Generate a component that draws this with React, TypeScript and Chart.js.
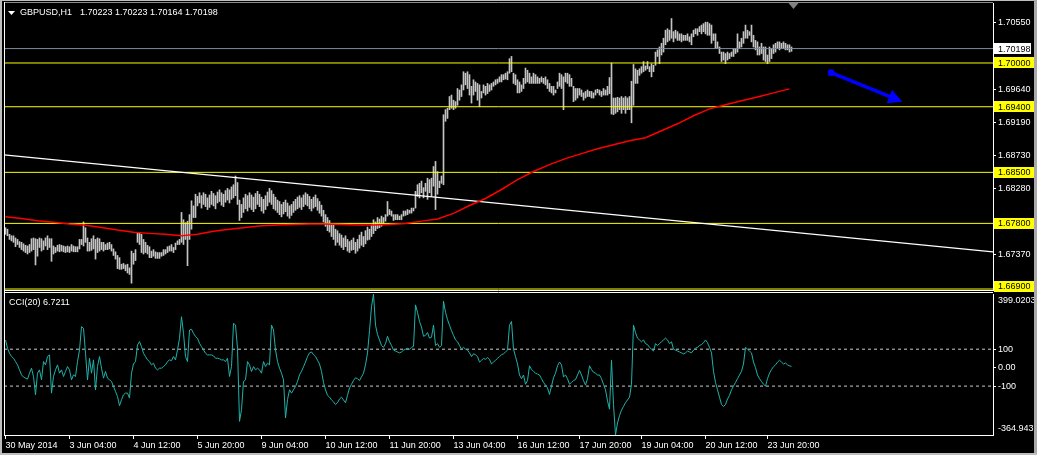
import React, { useEffect, useRef } from 'react';
import { Chart, registerables } from 'chart.js';

Chart.register(...registerables);

// ---------- DATA ----------
const symbolTitle = 'GBPUSD,H1';
const titleQuote = ['1.70223', '1.70223', '1.70164', '1.70198'];
const cciTitle = 'CCI(20) 6.7211';

// H1 bar highs (one per bar, oldest first)
const highs = [
  1.6774,1.6772,1.6765,1.6763,1.6763,1.6760,1.6758,1.6755,1.6754,1.6752,
  1.6750,1.6749,1.6751,1.6759,1.6760,1.6759,1.6758,1.6760,1.6759,1.6756,
  1.6760,1.6763,1.6759,1.6759,1.6749,1.6747,1.6750,1.6751,1.6750,1.6749,
  1.6748,1.6749,1.6748,1.6751,1.6749,1.6748,1.6748,1.6758,1.6758,1.6782,
  1.6774,1.6760,1.6754,1.6759,1.6763,1.6758,1.6760,1.6759,1.6754,1.6754,
  1.6751,1.6753,1.6754,1.6751,1.6745,1.6741,1.6736,1.6733,1.6724,1.6725,
  1.6723,1.6724,1.6719,1.6742,1.6739,1.6744,1.6767,1.6767,1.6765,1.6758,
  1.6754,1.6750,1.6748,1.6742,1.6744,1.6741,1.6740,1.6740,1.6740,1.6744,
  1.6744,1.6748,1.6749,1.6751,1.6747,1.6753,1.6756,1.6758,1.6795,1.6785,
  1.6781,1.6783,1.6792,1.6811,1.6804,1.6820,1.6817,1.6822,
  1.6818,1.6822,1.6820,1.6815,1.6819,1.6824,1.6821,1.6818,
  1.6823,1.6826,1.6822,1.6820,1.6825,1.6828,1.6826,1.6830,
  1.6833,1.6845,1.6836,1.6812,1.6806,
  1.6815,1.6820,1.6818,1.6822,1.6819,1.6816,1.6821,1.6824,1.6820,1.6816,1.6813,1.6818,
  1.6823,1.6828,1.6825,1.6820,1.6816,1.6812,
  1.6810,1.6806,1.6809,1.6812,1.6808,1.6804,1.6806,1.6810,1.6813,1.6816,
  1.6818,1.6815,1.6819,1.6822,1.6820,1.6817,1.6813,1.6816,1.6819,1.6814,1.6810,
  1.6805,1.6798,1.6792,1.6788,1.6784,1.6780,1.6778,1.6772,
  1.6770,1.6766,1.6764,1.6760,1.6763,1.6758,1.6755,1.6757,1.6760,1.6754,1.6758,
  1.6764,1.6768,1.6762,1.6770,1.6775,1.6772,1.6778,1.6785,1.6782,1.6788,1.6786,
  1.6790,1.6788,1.6792,1.6810,1.6799,1.6797,1.6792,1.6792,1.6792,1.6790,
  1.6792,1.6797,1.6797,1.6799,1.6798,1.6801,1.6801,1.6824,1.6833,1.6835,
  1.6838,1.6829,1.6835,1.6842,1.6840,1.6842,1.6858,1.6865,1.6851,1.6838,
  1.6845,1.6929,
  1.6936,1.6938,1.6954,1.6956,1.6949,1.6947,1.6965,1.6963,1.6970,1.6988,
  1.6986,1.6988,1.6984,1.6968,1.6977,1.6974,1.6972,1.6970,1.6961,1.6970,
  1.6968,1.6972,1.6970,1.6972,1.6974,1.6977,1.6978,1.6981,1.6984,1.6984,
  1.6986,1.6988,1.7006,1.7009,1.6986,1.6984,1.6977,1.6974,1.6970,1.6979,
  1.6993,1.6990,1.6986,1.6981,1.6986,1.6984,1.6981,1.6979,1.6981,1.6979,
  1.6981,1.6977,1.6972,1.6968,1.6968,1.6963,1.6974,1.6986,1.6984,1.6981,
  1.6986,1.6986,1.6984,1.6979,1.6968,1.6965,1.6965,1.6965,1.6963,1.6959,
  1.6961,1.6963,1.6961,1.6961,1.6959,1.6963,1.6964,1.6963,
  1.6961,1.6965,1.6963,1.6968,1.6980,1.7000,1.6952,1.6952,1.6953,1.6952,
  1.6954,1.6952,1.6954,1.6952,1.6954,1.6975,1.6998,1.6992,1.6990,1.6992,
  1.6995,1.7002,1.6996,1.7002,1.6995,1.6999,1.6997,1.7015,1.7018,1.7022,
  1.7027,1.7034,1.7045,1.7047,1.7045,1.7061,1.7043,1.7045,1.7043,1.7040,
  1.7040,1.7038,1.7038,1.7040,1.7036,1.7040,1.7045,1.7047,1.7047,1.7050,
  1.7052,1.7054,1.7056,1.7056,1.7054,1.7052,1.7040,1.7040,1.7029,1.7022,
  1.7015,1.7015,1.7013,1.7015,1.7013,1.7015,1.7020,1.7020,1.7040,1.7029,
  1.7034,1.7043,1.7052,1.7045,1.7043,1.7052,1.7038,1.7031,1.7029,1.7022,
  1.7027,1.7022,1.7022,1.7011,1.7022,1.7020,1.7025,1.7027,1.7029,1.7029,
  1.7027,1.7029,1.7027,1.7025,1.7025,1.7022,
];

// H1 bar lows
const lows = [
  1.6765,1.6763,1.6758,1.6756,1.6754,1.6748,1.6751,1.6747,1.6744,1.6742,
  1.6740,1.6738,1.6740,1.6742,1.6744,1.6723,1.6735,1.6747,1.6742,1.6744,
  1.6749,1.6744,1.6747,1.6728,1.6738,1.6740,1.6742,1.6741,1.6742,1.6741,
  1.6740,1.6741,1.6740,1.6742,1.6741,1.6741,1.6741,1.6745,1.6751,1.6749,
  1.6754,1.6742,1.6742,1.6743,1.6745,1.6731,1.6740,1.6742,1.6744,1.6742,
  1.6744,1.6744,1.6745,1.6742,1.6736,1.6731,1.6718,1.6717,1.6717,1.6718,
  1.6715,1.6712,1.6710,1.6698,1.6724,1.6729,1.6754,1.6751,1.6740,1.6738,
  1.6740,1.6738,1.6733,1.6733,1.6735,1.6732,1.6732,1.6732,1.6735,1.6736,
  1.6738,1.6740,1.6742,1.6742,1.6740,1.6744,1.6751,1.6751,1.6754,1.6751,
  1.6758,1.6722,1.6758,1.6772,1.6788,1.6788,1.6804,1.6808,
  1.6801,1.6806,1.6803,1.6799,1.6802,1.6806,1.6804,1.6800,
  1.6808,1.6810,1.6805,1.6803,1.6809,1.6812,1.6808,1.6813,
  1.6815,1.6818,1.6806,1.6784,1.6788,
  1.6795,1.6800,1.6797,1.6802,1.6799,1.6796,1.6800,1.6806,1.6803,1.6797,1.6794,1.6799,
  1.6804,1.6809,1.6806,1.6800,1.6798,1.6795,
  1.6792,1.6789,1.6793,1.6796,1.6790,1.6787,1.6791,1.6795,1.6798,1.6800,
  1.6802,1.6799,1.6803,1.6806,1.6804,1.6800,1.6797,1.6801,1.6803,1.6798,1.6794,
  1.6790,1.6782,1.6776,1.6770,1.6768,1.6762,1.6758,1.6750,
  1.6754,1.6750,1.6747,1.6744,1.6748,1.6742,1.6740,1.6743,1.6744,1.6739,1.6742,
  1.6746,1.6750,1.6748,1.6752,1.6757,1.6758,1.6762,1.6766,1.6770,1.6773,1.6774,
  1.6776,1.6778,1.6783,1.6790,1.6792,1.6790,1.6784,1.6785,1.6785,1.6785,
  1.6785,1.6790,1.6791,1.6792,1.6794,1.6794,1.6797,1.6801,1.6817,1.6815,
  1.6822,1.6815,1.6824,1.6813,1.6822,1.6817,1.6831,1.6799,1.6820,1.6829,
  1.6835,1.6833,
  1.6920,1.6924,1.6936,1.6938,1.6936,1.6938,1.6942,1.6949,1.6954,1.6963,
  1.6970,1.6965,1.6956,1.6945,1.6956,1.6961,1.6949,1.6940,1.6952,1.6959,
  1.6956,1.6958,1.6961,1.6963,1.6968,1.6970,1.6972,1.6974,1.6974,1.6977,
  1.6978,1.6977,1.6986,1.6988,1.6972,1.6970,1.6959,1.6959,1.6961,1.6965,
  1.6972,1.6974,1.6972,1.6972,1.6972,1.6972,1.6972,1.6972,1.6974,1.6972,
  1.6970,1.6965,1.6961,1.6959,1.6956,1.6959,1.6965,1.6968,1.6965,1.6936,
  1.6974,1.6972,1.6968,1.6968,1.6947,1.6949,1.6952,1.6956,1.6954,1.6949,
  1.6952,1.6954,1.6954,1.6952,1.6952,1.6956,1.6959,1.6956,
  1.6954,1.6956,1.6956,1.6956,1.6958,1.6930,1.6929,1.6931,1.6933,1.6936,
  1.6931,1.6936,1.6931,1.6936,1.6936,1.6918,1.6942,1.6972,1.6972,1.6983,
  1.6986,1.6988,1.6990,1.6992,1.6988,1.6981,1.6988,1.6997,1.7009,1.6999,
  1.7011,1.7015,1.7025,1.7029,1.7031,1.7034,1.7029,1.7034,1.7031,1.7031,
  1.7029,1.7031,1.7031,1.7031,1.7029,1.7025,1.7036,1.7040,1.7038,1.7043,
  1.7040,1.7043,1.7040,1.7038,1.7038,1.7027,1.7031,1.7020,1.7020,1.7013,
  1.7002,1.7004,1.6999,1.7004,1.7006,1.7009,1.7009,1.7013,1.7015,1.7020,
  1.7022,1.7027,1.7034,1.7034,1.7038,1.7029,1.7022,1.7018,1.7011,1.7011,
  1.7013,1.7004,1.7002,1.6999,1.7002,1.7006,1.7013,1.7015,1.7020,1.7018,
  1.7020,1.7020,1.7018,1.7018,1.7015,1.7016,
];

// red moving average, one reading every 8 bars
const MA_STEP = 8;
const maValues = [
  1.67892,1.67868,1.67837,1.67814,1.67790,1.67773,1.67745,1.67708,1.67677,1.67663,
  1.67650,1.67632,1.67650,1.67691,1.67718,1.67745,1.67766,1.67779,1.67786,1.67793,
  1.67793,1.67786,1.67779,1.67779,1.67786,1.67800,1.67831,1.67861,1.67937,1.68046,
  1.68142,1.68265,1.68401,1.68511,1.68606,1.68688,1.68757,1.68825,1.68880,1.68934,
  1.68975,1.69071,1.69166,1.69276,1.69371,1.69426,1.69481,1.69535,1.69590,1.69645,
];

// CCI(20), one per bar
const cciValues = [
  150,105,78,60,51,33,15,-12,-39,-51,
  -57,-62,-30,-3,-48,-147,-30,-12,-66,33,
  15,60,69,-138,-48,-12,15,-30,-12,-48,
  -21,6,-12,-66,-39,-48,33,96,222,213,
  78,-66,51,-30,42,-120,6,60,-3,-57,
  -21,-57,-66,-75,-102,-129,-156,-206,-174,-147,
  -138,-138,-165,-30,20,33,123,141,114,78,
  60,42,33,15,24,-3,-12,-3,-3,6,
  15,33,42,38,60,42,96,159,276,186,
  60,33,204,208,186,168,159,132,114,96,
  78,69,69,69,64,51,51,48,42,42,
  33,51,-48,6,240,231,105,-291,-228,-75,
  -66,33,15,-21,6,-12,-3,-12,-30,33,
  6,24,15,231,204,96,33,-3,-30,-66,
  -273,-174,-120,-138,-120,-102,-75,-39,
  -20,5,30,60,80,85,70,60,40,20,
  -20,-80,-120,-150,-160,-175,-185,-200,
  -190,-170,-160,-175,-190,-150,-110,-90,-70,-55,
  -60,-70,-50,-30,15,80,200,330,399.0203,230,180,150,
  120,110,130,170,140,120,95,90,85,80,85,95,100,105,100,110,115,
  340,300,250,220,170,175,190,160,165,230,120,130,110,120,360,
  300,260,230,200,175,150,140,120,100,110,
  100,95,80,60,75,70,60,30,40,50,
  45,55,45,20,30,40,50,60,70,75,
  85,95,230,250,
  100,60,20,-40,-60,-40,-90,-70,10,-10,
  -20,-30,-35,-40,-60,-80,-95,-110,-145,-100,
  -55,-30,10,30,15,-50,-40,-60,-90,-80,
  -70,-65,-40,-15,-40,-70,-95,-60,10,-10,
  -25,-30,-40,-40,-60,-90,-120,-180,-225,
  40,-200,-364.9437,-300,-260,-230,-210,-190,-175,-160,
  -90,230,190,160,150,140,150,130,125,110,
  100,90,130,120,130,140,150,160,150,130,
  140,100,95,90,85,80,75,80,90,85,
  80,95,105,110,120,125,135,150,135,110,
  80,-20,-80,-120,-160,-200,-210,-200,-170,-150,
  -120,-100,-80,-60,-40,-20,20,110,100,90,
  80,30,0,-40,-60,-75,-90,-100,-60,-30,
  -10,5,15,30,40,30,20,25,15,10,
  6.7211,
];

const levelPrices = [1.70000, 1.69400, 1.68500, 1.67800, 1.66900];
const currentPrice = 1.70198;
const trendlineEnds = [1.6874, 1.6741]; // price at left and right chart edges
const priceTicks = [1.70550, 1.69640, 1.69190, 1.68730, 1.68280, 1.67370];
const cciTicks = [100, 0, -100];
const cciLevels = [100, -100];
const cciMin = -364.9437;
const cciMax = 399.0203;
const timeTickIdx = [0, 32, 64, 96, 128, 160, 192, 224, 256, 287, 318, 350, 381];
const timeLabels = [
  '30 May 2014', '3 Jun 04:00', '4 Jun 12:00', '5 Jun 20:00', '9 Jun 04:00',
  '10 Jun 12:00', '11 Jun 20:00', '13 Jun 04:00', '16 Jun 12:00', '17 Jun 20:00',
  '19 Jun 04:00', '20 Jun 12:00', '23 Jun 20:00',
];
const arrowFrom = { x: 412.8, y: 1.69867 };
const arrowTo = { x: 448.4, y: 1.69469 };
const shiftMarkerIdx = 394;

// ---------- VIEW SETTINGS ----------
const X_MIN = -0.75;
const X_MAX = 493.75;
const PRICE_MIN = 1.668863;
const PRICE_MAX = 1.70823;
const FONT = "'Liberation Sans', Arial, sans-serif";
const BAR_COLOR = '#c4c4c4';
const W = 1037;
const MAIN_H = 292;
const CCI_H = 163;

const hline = (p: number, color: string, dash: number[] = []) => ({
  type: 'line',
  data: [{ x: X_MIN, y: p }, { x: X_MAX, y: p }],
  borderColor: color,
  borderWidth: 1,
  borderDash: dash,
  pointRadius: 0,
  order: 2,
});

const mainDecor = {
  id: 'mainDecor',
  afterDraw(chart: any) {
    const { ctx, chartArea: a, scales } = chart;
    const xs = scales.x;
    const ys = scales.y;
    ctx.save();
    // frame
    ctx.lineWidth = 1;
    ctx.strokeStyle = '#8c8c8c';
    ctx.beginPath();
    ctx.moveTo(a.left, 2.5);
    ctx.lineTo(a.right, 2.5);
    ctx.stroke();
    ctx.strokeStyle = '#ffffff';
    ctx.beginPath();
    ctx.moveTo(a.left + 0.5, 2);
    ctx.lineTo(a.left + 0.5, MAIN_H);
    ctx.moveTo(a.left, a.bottom + 0.5);
    ctx.lineTo(a.right, a.bottom + 0.5);
    ctx.stroke();

    // title
    ctx.fillStyle = '#ffffff';
    ctx.beginPath();
    ctx.moveTo(8, 11);
    ctx.lineTo(15, 11);
    ctx.lineTo(11.5, 15);
    ctx.closePath();
    ctx.fill();
    ctx.font = `9px ${FONT}`;
    ctx.textBaseline = 'middle';
    ctx.textAlign = 'left';
    ctx.fillText(symbolTitle, 20, 13);
    const w = ctx.measureText(symbolTitle).width;
    ctx.fillText(titleQuote.join(' '), 20 + w + 8, 13);

    // shift marker
    const sx = xs.getPixelForValue(shiftMarkerIdx);
    ctx.fillStyle = '#808080';
    ctx.beginPath();
    ctx.moveTo(sx - 5, 3);
    ctx.lineTo(sx + 5, 3);
    ctx.lineTo(sx, 9);
    ctx.closePath();
    ctx.fill();

    // blue arrow
    const x1 = xs.getPixelForValue(arrowFrom.x);
    const y1 = ys.getPixelForValue(arrowFrom.y);
    const x2 = xs.getPixelForValue(arrowTo.x);
    const y2 = ys.getPixelForValue(arrowTo.y);
    const ang = Math.atan2(y2 - y1, x2 - x1);
    const headLen = 14;
    const headW = 7.3;
    const bx = x2 - headLen * Math.cos(ang);
    const by = y2 - headLen * Math.sin(ang);
    ctx.strokeStyle = '#0000ff';
    ctx.fillStyle = '#0000ff';
    ctx.lineWidth = 3.5;
    ctx.lineCap = 'round';
    ctx.beginPath();
    ctx.moveTo(x1, y1);
    ctx.lineTo(bx + 2 * Math.cos(ang), by + 2 * Math.sin(ang));
    ctx.stroke();
    ctx.beginPath();
    ctx.arc(x1, y1, 3.4, 0, Math.PI * 2);
    ctx.fill();
    ctx.beginPath();
    ctx.moveTo(x2, y2);
    ctx.lineTo(bx + headW * Math.sin(ang), by - headW * Math.cos(ang));
    ctx.lineTo(bx - headW * Math.sin(ang), by + headW * Math.cos(ang));
    ctx.closePath();
    ctx.fill();

    // price labels of the horizontal lines
    const box = (p: number, bg: string, right: number) => {
      let cy = ys.getPixelForValue(p);
      cy = Math.min(cy, a.bottom - 4);
      ctx.fillStyle = bg;
      ctx.fillRect(a.right + 1, Math.round(cy - 5.5), right - a.right - 1, 11);
      ctx.fillStyle = '#000000';
      ctx.font = `9px ${FONT}`;
      ctx.textBaseline = 'middle';
      ctx.textAlign = 'left';
      ctx.fillText(p.toFixed(5), a.right + 5, cy + 0.5);
    };
    levelPrices.forEach((p) => box(p, '#ffff00', 1034));
    box(currentPrice, '#ffffff', 1031);
    ctx.restore();
  },
};

const cciDecor = {
  id: 'cciDecor',
  afterDraw(chart: any) {
    const { ctx, chartArea: a, scales } = chart;
    const ys = scales.y;
    ctx.save();
    ctx.strokeStyle = '#ffffff';
    ctx.lineWidth = 1;
    ctx.beginPath();
    ctx.moveTo(a.left, 0.5);
    ctx.lineTo(a.right, 0.5);
    ctx.moveTo(a.left + 0.5, 0);
    ctx.lineTo(a.left + 0.5, a.bottom);
    ctx.stroke();
    ctx.fillStyle = '#ffffff';
    ctx.font = `9px ${FONT}`;
    ctx.textBaseline = 'middle';
    ctx.textAlign = 'left';
    ctx.fillText(cciTitle, 9, 11);
    ctx.fillText(cciMax.toFixed(4), a.right + 5, ys.getPixelForValue(cciMax) + 7);
    ctx.fillText(cciMin.toFixed(4), a.right + 5, ys.getPixelForValue(cciMin) - 6);
    ctx.restore();
  },
};

const axisFont = { family: FONT, size: 9 };

export default function App() {
  const mainRef = useRef<HTMLCanvasElement>(null);
  const cciRef = useRef<HTMLCanvasElement>(null);

  useEffect(() => {
    document.body.style.margin = '0';
    document.body.style.background = '#000000';

    const bars = highs.map((h, i) => ({ x: i, y: [lows[i], h] }));
    const ma = maValues.map((v, k) => ({ x: k * MA_STEP, y: v }));

    const main = new Chart(mainRef.current as HTMLCanvasElement, {
      type: 'bar',
      data: {
        datasets: [
          {
            type: 'line',
            data: ma,
            borderColor: '#ff0000',
            borderWidth: 1.5,
            pointRadius: 0,
            order: 0,
          },
          {
            type: 'line',
            data: [
              { x: X_MIN, y: trendlineEnds[0] },
              { x: X_MAX, y: trendlineEnds[1] },
            ],
            borderColor: '#ffffff',
            borderWidth: 1.2,
            pointRadius: 0,
            order: 1,
          },
          ...levelPrices.map((p) => hline(p, '#ffff00')),
          hline(currentPrice, '#7d8a96'),
          {
            type: 'bar',
            data: bars,
            backgroundColor: BAR_COLOR,
            barThickness: 1,
            grouped: false,
            order: 5,
          },
        ] as any,
      },
      options: {
        responsive: false,
        animation: false,
        events: [],
        layout: { padding: { left: 4, top: 3, right: 0, bottom: 2 }, autoPadding: false },
        plugins: { legend: { display: false }, tooltip: { enabled: false } },
        scales: {
          x: {
            type: 'linear',
            min: X_MIN,
            max: X_MAX,
            offset: false,
            bounds: 'data',
            display: false,
            grid: { offset: false },
          },
          y: {
            type: 'linear',
            position: 'right',
            min: PRICE_MIN,
            max: PRICE_MAX,
            bounds: 'data',
            beginAtZero: false,
            afterFit: (s: any) => {
              s.width = 44;
              s.paddingTop = 0;
              s.paddingBottom = 0;
            },
            afterBuildTicks: (s: any) => {
              s.ticks = priceTicks.map((v) => ({ value: v }));
            },
            ticks: {
              color: '#ffffff',
              font: axisFont,
              padding: 2,
              autoSkip: false,
              callback: (v: any) => Number(v).toFixed(5),
            },
            grid: { drawOnChartArea: false, drawTicks: true, tickLength: 3, color: '#ffffff' },
            border: { display: true, color: '#ffffff' },
          },
        },
      } as any,
      plugins: [mainDecor],
    });

    const cci = new Chart(cciRef.current as HTMLCanvasElement, {
      type: 'line',
      data: {
        datasets: [
          {
            data: cciValues.map((v, i) => ({ x: i, y: v })),
            borderColor: '#20b2aa',
            borderWidth: 1,
            pointRadius: 0,
            order: 0,
          },
          ...cciLevels.map((v) => hline(v, '#c8c8c8', [3, 3])),
        ] as any,
      },
      options: {
        responsive: false,
        animation: false,
        events: [],
        layout: { padding: { left: 4, top: 2, right: 0, bottom: 0 }, autoPadding: false },
        plugins: { legend: { display: false }, tooltip: { enabled: false } },
        scales: {
          x: {
            type: 'linear',
            position: 'bottom',
            min: X_MIN,
            max: X_MAX,
            bounds: 'data',
            afterFit: (s: any) => {
              s.height = 20;
              s.paddingLeft = 0;
              s.paddingRight = 0;
            },
            afterBuildTicks: (s: any) => {
              s.ticks = timeTickIdx.map((v) => ({ value: v }));
            },
            ticks: {
              color: '#ffffff',
              font: axisFont,
              align: 'start',
              maxRotation: 0,
              autoSkip: false,
              padding: 1,
              callback: (_v: any, idx: number) => timeLabels[idx],
            },
            grid: { drawOnChartArea: false, drawTicks: true, tickLength: 4, color: '#ffffff' },
            border: { display: true, color: '#ffffff' },
          },
          y: {
            type: 'linear',
            position: 'right',
            min: cciMin,
            max: cciMax,
            bounds: 'data',
            afterFit: (s: any) => {
              s.width = 44;
              s.paddingTop = 0;
              s.paddingBottom = 0;
            },
            afterBuildTicks: (s: any) => {
              s.ticks = cciTicks.map((v) => ({ value: v }));
            },
            ticks: {
              color: '#ffffff',
              font: axisFont,
              padding: 2,
              autoSkip: false,
              callback: (v: any) => (Number(v) === 0 ? '0.00' : String(v)),
            },
            grid: { drawOnChartArea: false, drawTicks: true, tickLength: 3, color: '#ffffff' },
            border: { display: true, color: '#ffffff' },
          },
        },
      } as any,
      plugins: [cciDecor],
    });

    return () => {
      main.destroy();
      cci.destroy();
    };
  }, []);

  return (
    <div style={{ position: 'relative', width: W, height: MAIN_H + CCI_H, background: '#000', overflow: 'hidden' }}>
      <canvas ref={mainRef} width={W} height={MAIN_H} style={{ position: 'absolute', left: 0, top: 0 }} />
      <canvas ref={cciRef} width={W} height={CCI_H} style={{ position: 'absolute', left: 0, top: MAIN_H }} />
      <div style={{ position: 'absolute', left: 0, top: 0, width: 2, height: 455, background: '#bdbdbd' }} />
      <div style={{ position: 'absolute', left: 0, top: 0, width: W, height: 1, background: '#bdbdbd' }} />
      <div style={{ position: 'absolute', left: 1034, top: 0, width: 3, height: 455, background: '#a9a9a9' }} />
      <div style={{ position: 'absolute', left: 0, top: 453, width: W, height: 2, background: '#bdbdbd' }} />
    </div>
  );
}
